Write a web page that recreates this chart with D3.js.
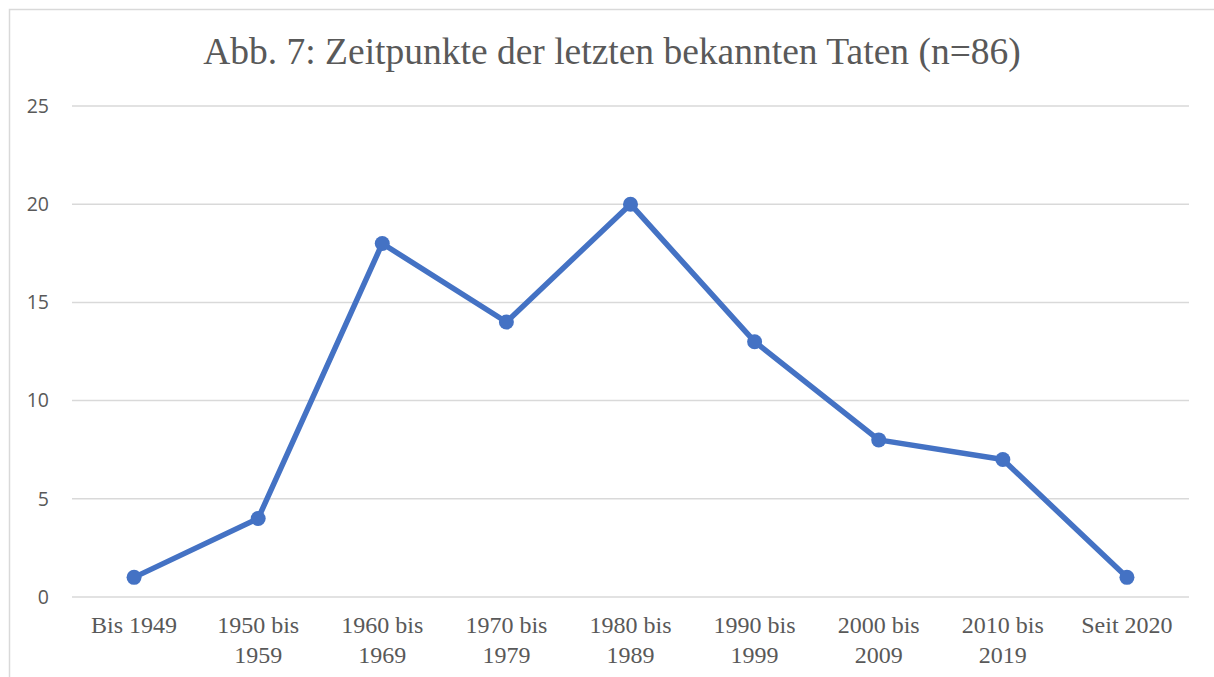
<!DOCTYPE html>
<html>
<head>
<meta charset="utf-8">
<script src="https://cdn.jsdelivr.net/npm/d3@7"></script>
<style>
  body { margin: 0; background: #fff; }
  .gridline line { stroke: #d9d9d9; stroke-width: 1.5; }
</style>
</head>
<body>
<div id="chart"></div>
<script>
var categories = [["Bis 1949"], ["1950 bis", "1959"], ["1960 bis", "1969"], ["1970 bis", "1979"],
    ["1980 bis", "1989"], ["1990 bis", "1999"], ["2000 bis", "2009"], ["2010 bis", "2019"], ["Seit 2020"]];
var values = [1, 4, 18, 14, 20, 13, 8, 7, 1];
var yTicks = [0, 5, 10, 15, 20, 25];
var title = "Abb. 7: Zeitpunkte der letzten bekannten Taten (n=86)";

var width = 1214;
var height = 677;
var plotLeft = 72, plotRight = 1189, plotTop = 106, plotBottom = 597;

var svg = d3.select("#chart")
    .append("svg")
    .attr("width", width)
    .attr("height", height);

// chart frame
svg.append("rect")
    .attr("x", 9.5).attr("y", 9.5)
    .attr("width", width + 20).attr("height", height + 20)
    .attr("fill", "#fff")
    .attr("stroke", "#d9d9d9")
    .attr("stroke-width", 1.5);

svg.append("text")
    .attr("x", 612)
    .attr("y", 64)
    .attr("text-anchor", "middle")
    .attr("font-family", "Liberation Serif, Times New Roman, serif")
    .attr("font-size", 37.5)
    .attr("fill", "#595959")
    .text(title);

var ScaleX = d3.scaleBand()
    .domain(d3.range(categories.length))
    .range([plotLeft, plotRight]);

var ScaleY = d3.scaleLinear()
    .domain([0, 25])
    .range([plotBottom, plotTop]);

// grid
var grid = svg.append("g").attr("class", "gridline");
grid.selectAll("line")
    .data(yTicks)
    .enter()
    .append("line")
    .attr("x1", plotLeft)
    .attr("x2", plotRight)
    .attr("y1", function(d) { return ScaleY(d); })
    .attr("y2", function(d) { return ScaleY(d); });

// y axis labels
var Y_Axis = d3.axisLeft(ScaleY).tickValues(yTicks).tickSize(0).tickPadding(0);
var yG = svg.append("g")
    .attr("transform", "translate(49,0)")
    .call(Y_Axis);
yG.select(".domain").remove();
yG.selectAll("text")
    .attr("font-family", "Open Sans, Liberation Sans, sans-serif")
    .attr("font-size", 19.5)
    .attr("fill", "#595959");

// x labels
var xLabels = svg.append("g");
categories.forEach(function(lines, i) {
    var t = xLabels.append("text")
        .attr("x", ScaleX(i) + ScaleX.bandwidth() / 2)
        .attr("y", 633)
        .attr("text-anchor", "middle")
        .attr("font-family", "Liberation Serif, Times New Roman, serif")
        .attr("font-size", 24)
        .attr("fill", "#595959");
    lines.forEach(function(l, j) {
        t.append("tspan")
            .attr("x", ScaleX(i) + ScaleX.bandwidth() / 2)
            .attr("dy", j === 0 ? 0 : 30)
            .text(l);
    });
});

var line = d3.line()
    .x(function(d, i) { return ScaleX(i) + ScaleX.bandwidth() / 2; })
    .y(function(d) { return ScaleY(d); });

svg.append("path")
    .datum(values)
    .attr("d", line)
    .attr("fill", "none")
    .attr("stroke", "#4472c4")
    .attr("stroke-width", 5.5)
    .attr("stroke-linejoin", "round");

svg.selectAll("circle.pt")
    .data(values)
    .enter()
    .append("circle")
    .attr("class", "pt")
    .attr("cx", function(d, i) { return ScaleX(i) + ScaleX.bandwidth() / 2; })
    .attr("cy", function(d) { return ScaleY(d); })
    .attr("r", 7.5)
    .attr("fill", "#4472c4");
</script>
</body>
</html>
